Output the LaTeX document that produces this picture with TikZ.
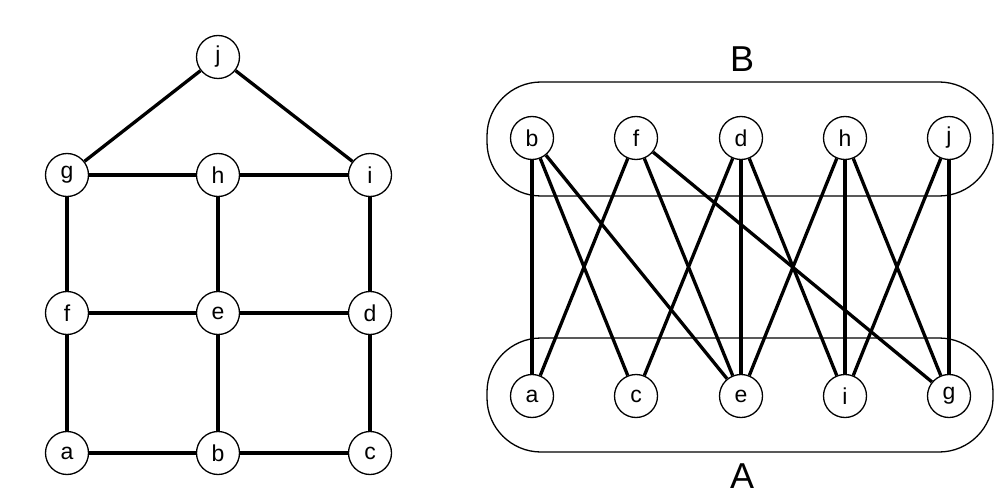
\documentclass[tikz,border=0pt]{standalone}
\usepackage{fontspec}
\setmainfont{Liberation Sans}
\begin{document}
\begin{tikzpicture}[x=1pt,y=-1pt,
  vtx/.style={circle,draw,line width=1.3pt,minimum size=43pt,inner sep=0pt,fill=white,font=\fontsize{23}{23}\selectfont},
  edge/.style={line width=3.3pt},
  grp/.style={line width=1.3pt,rounded corners=54pt},
  lbl/.style={font=\fontsize{36}{36}\selectfont,anchor=base,inner sep=0pt}]
\useasboundingbox (0,0) rectangle (1006,497);
% right side groups
\draw[grp] (487,82) rectangle (993,196);
\draw[grp] (487,338) rectangle (993,452);
\node[lbl] (LB) at (742,72) {B};
\node[lbl] (LA) at (742,488) {A};
% left graph nodes
\node[vtx] (Lj) at (218,57) {j};
\node[vtx] (Lg) at (67,175) {g};
\node[vtx] (Lh) at (218,175) {h};
\node[vtx] (Li) at (370,175) {i};
\node[vtx] (Lf) at (67,313) {f};
\node[vtx] (Le) at (218,313) {e};
\node[vtx] (Ld) at (370,313) {d};
\node[vtx] (La) at (67,453) {a};
\node[vtx] (Lb) at (218,453) {b};
\node[vtx] (Lc) at (370,453) {c};
\draw[edge] (Lj) -- (Lg);
\draw[edge] (Lj) -- (Li);
\draw[edge] (Lg) -- (Lh);
\draw[edge] (Lh) -- (Li);
\draw[edge] (Lg) -- (Lf);
\draw[edge] (Lh) -- (Le);
\draw[edge] (Li) -- (Ld);
\draw[edge] (Lf) -- (Le);
\draw[edge] (Le) -- (Ld);
\draw[edge] (Lf) -- (La);
\draw[edge] (Le) -- (Lb);
\draw[edge] (Ld) -- (Lc);
\draw[edge] (La) -- (Lb);
\draw[edge] (Lb) -- (Lc);
% right graph nodes
\node[vtx] (Rb) at (532,138) {b};
\node[vtx] (Rf) at (636,138) {f};
\node[vtx] (Rd) at (741,138) {d};
\node[vtx] (Rh) at (845,138) {h};
\node[vtx] (Rj) at (949,138) {j};
\node[vtx] (Ra) at (532,396) {a};
\node[vtx] (Rc) at (636,396) {c};
\node[vtx] (Re) at (741,396) {e};
\node[vtx] (Ri) at (845,396) {i};
\node[vtx] (Rg) at (949,396) {g};
\foreach \u/\v in {Rb/Ra,Rb/Rc,Rb/Re,Rf/Ra,Rf/Re,Rf/Rg,Rd/Rc,Rd/Re,Rd/Ri,Rh/Re,Rh/Ri,Rh/Rg,Rj/Ri,Rj/Rg}
  \draw[edge] (\u) -- (\v);
\end{tikzpicture}
\end{document}
